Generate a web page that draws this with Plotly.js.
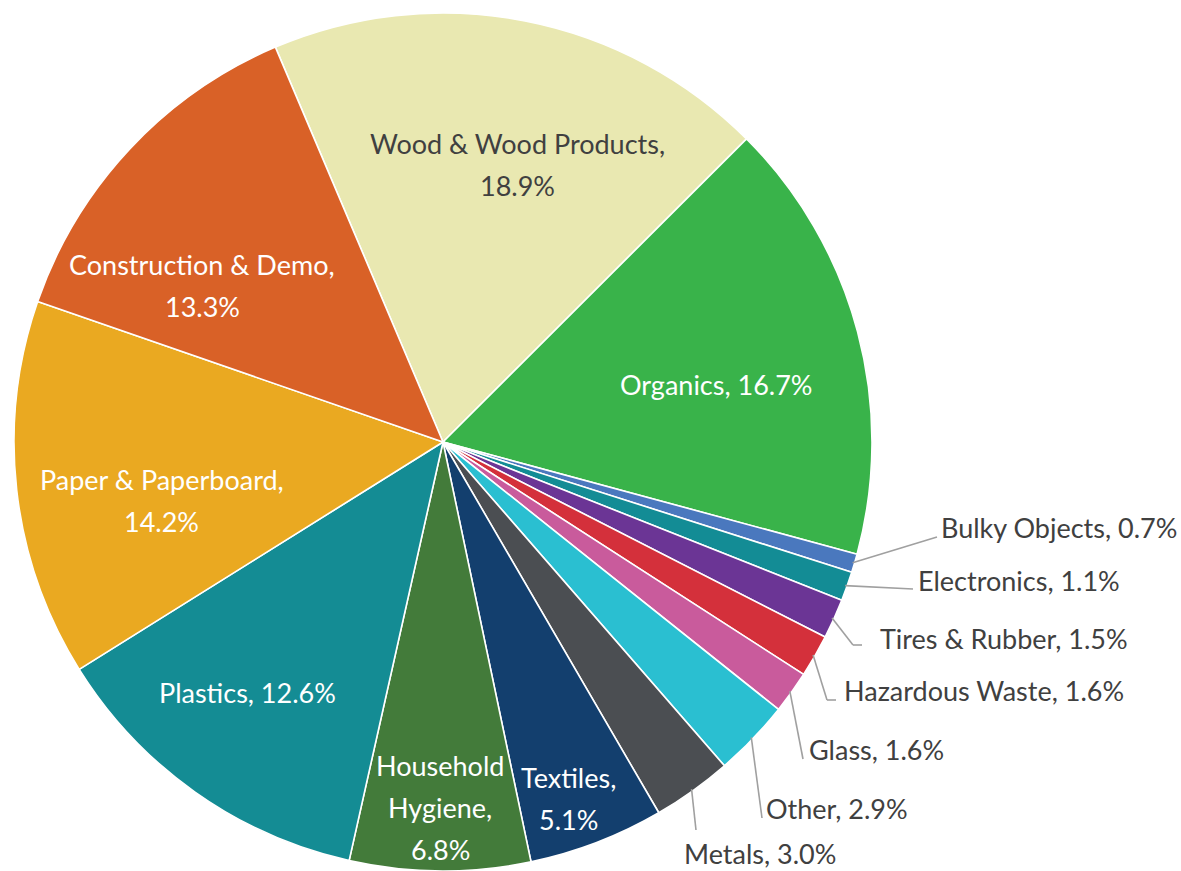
<!DOCTYPE html>
<html><head><meta charset="utf-8">
<script src="https://cdn.plot.ly/plotly-3.0.1.min.js"></script>
<style>html,body{margin:0;padding:0;background:#fff;} #chart{width:1181px;height:871px;}</style>
</head><body><div id="chart"></div>
<script>
// ---- data ----
const categories = ["Wood & Wood Products","Organics","Bulky Objects","Electronics","Tires & Rubber","Hazardous Waste","Glass","Other","Metals","Textiles","Household Hygiene","Plastics","Paper & Paperboard","Construction & Demo"];
const shares = [18.9,16.7,0.7,1.1,1.5,1.6,1.6,2.9,3.0,5.1,6.8,12.6,14.2,13.3];
const colors = ["#E9E8B1","#39B34A","#4A78BE","#138C95","#6B3595","#D4303B","#C95B9C","#2ABFD1","#4B4E52","#133F6E","#437B3A","#148C94","#EAA921","#D96127"];

// ---- styling / layout config ----
const W = 1181, H = 871, CX = 443, CY = 442, R = 429, ROT = -23;
const FONT = "Lato, 'Open Sans', sans-serif", FS = 27, LINE_GAP = 42;
const DARK = "#404040";
// inside label style: mode (one line / name+value / split words), radial fraction, angle tweak, colour
const insideCfg = {
  0: {mode:"two", r:0.67, da:4, color:DARK},
  1: {mode:"one", r:0.65, da:3, color:"#fff"},
  9: {mode:"two", r:0.88, da:1.6, color:"#fff"},
  10:{mode:"split", r:0.853, da:0, color:"#fff"},
  11:{mode:"one", r:0.74, da:2.6, color:"#fff"},
  12:{mode:"two", r:0.67, da:-5.4, color:"#fff"},
  13:{mode:"two", r:0.67, da:-10, color:"#fff"}
};
// outside labels: [textLeftX, baselineY, lineEndX, lineEndY, elbowLen] in pixels
const outsideCfg = {
  2:[940,537,937,537,0],
  3:[917,590,913,589,0],
  4:[879,648,862,645,9],
  5:[843,700,836,700,9],
  6:[808,759,803,759,0],
  7:[765,818,762,818,0],
  8:[683,863,696,830,0]
};

const px = x => x / W, py = y => 1 - y / H;
const fmt = v => v.toFixed(1) + "%";

const annotations = [], shapes = [];
const total = shares.reduce((a,b)=>a+b,0);
let cum = 0;
shares.forEach((v,i) => {
  const mid = ROT + (cum + v/2) / total * 360;
  cum += v;
  if (insideCfg[i]) {
    const c = insideCfg[i];
    const a = (mid + c.da) * Math.PI/180;
    const cx = CX + c.r*R*Math.sin(a), cy = CY - c.r*R*Math.cos(a);
    let lines;
    if (c.mode === "one") lines = [categories[i] + ", " + fmt(v)];
    else if (c.mode === "two") lines = [categories[i] + ",", fmt(v)];
    else { const w = categories[i].split(" "); lines = w.slice(0,-1).concat([w[w.length-1] + ","]).concat([fmt(v)]); }
    lines.forEach((t,k) => {
      const y = cy + (k - (lines.length-1)/2) * LINE_GAP;
      annotations.push({text:t, x:px(cx), y:py(y), xref:"paper", yref:"paper", xanchor:"center", yanchor:"middle",
        showarrow:false, font:{family:FONT, size:FS, color:c.color}});
    });
  } else if (outsideCfg[i]) {
    const [tx, base, ex, ey, el] = outsideCfg[i];
    const a = mid * Math.PI/180;
    const rx = CX + (R-2)*Math.sin(a), ry = CY - (R-2)*Math.cos(a);
    const lineStyle = {color:"#A0A0A0", width:1.6};
    shapes.push({type:"line", xref:"paper", yref:"paper", x0:px(rx), y0:py(ry), x1:px(ex-el), y1:py(ey), line:lineStyle});
    if (el > 0) shapes.push({type:"line", xref:"paper", yref:"paper", x0:px(ex-el), y0:py(ey), x1:px(ex), y1:py(ey), line:lineStyle});
    annotations.push({text: categories[i] + ", " + fmt(v), x:px(tx-1), y:py(base-10), xref:"paper", yref:"paper",
      xanchor:"left", yanchor:"middle", showarrow:false, font:{family:FONT, size:FS, color:DARK}});
  }
});

const trace = {
  type:"pie", labels:categories, values:shares, sort:false, direction:"clockwise", rotation:ROT,
  marker:{colors:colors, line:{color:"#ffffff", width:1.6}},
  textinfo:"none", hoverinfo:"label+percent", showlegend:false,
  domain:{x:[(CX-R)/W, (CX+R)/W], y:[Math.max(0, 1-(CY+R)/H), 1-(CY-R)/H]}
};
const layout = {
  width:W, height:H, margin:{l:0,r:0,t:0,b:0}, paper_bgcolor:"#fff", showlegend:false,
  annotations:annotations, shapes:shapes, font:{family:FONT}
};
Plotly.newPlot("chart", [trace], layout, {displayModeBar:false, staticPlot:true});
</script></body></html>
